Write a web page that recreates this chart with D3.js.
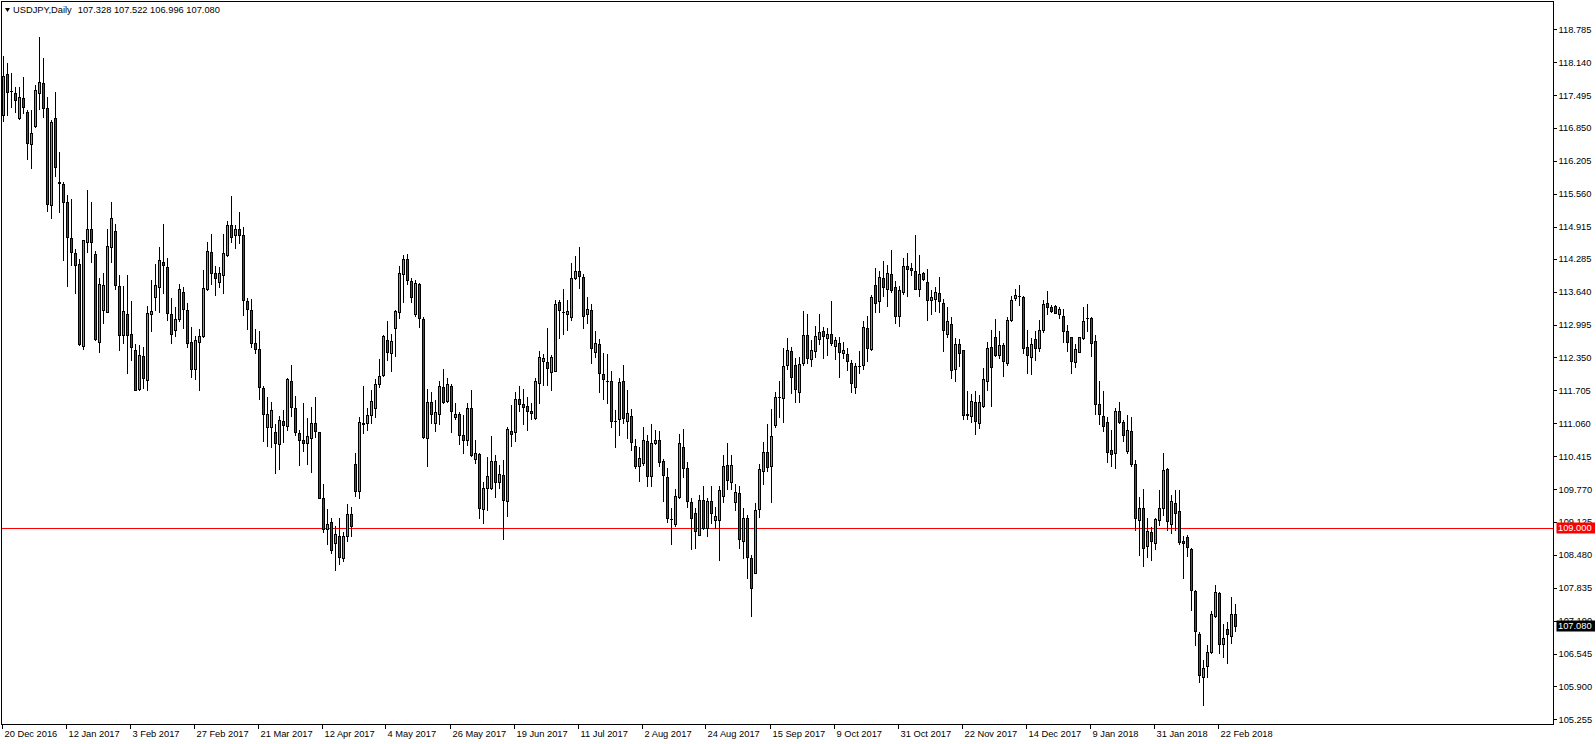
<!DOCTYPE html>
<html><head><meta charset="utf-8">
<script src="https://cdn.jsdelivr.net/npm/d3@7"></script>
<style>
html,body{margin:0;padding:0;background:#fff;overflow:hidden;}
svg{display:block;}
text{font-family:"Liberation Sans",Arial,sans-serif;font-size:9.3px;fill:#000;}
</style></head><body>
<svg id="chart" width="1596" height="744"></svg>
<script>
const symbol = "USDJPY,Daily";
const lastQuote = ["107.328", "107.522", "106.996", "107.080"];
const firstDate = "2016-12-20";
const holidays = ["2017-12-25", "2018-01-01"];
const levelLine = 109.000;
const levelLabel = "109.000";
const lastPriceLabel = "107.080";

const opens = [117.45,117.10,117.91,117.57,117.53,117.05,117.43,117.16,116.53,116.88,117.53,117.74,117.24,115.33,117.04,115.78,115.76,115.39,114.70,114.39,
114.18,112.58,114.61,114.86,114.37,112.66,113.29,113.25,114.52,114.83,113.75,112.80,113.20,112.82,112.50,111.74,112.38,111.91,113.21,113.53,
113.74,114.22,114.12,113.21,112.89,113.10,113.64,113.29,112.66,112.12,112.66,112.78,113.70,114.42,114.00,113.83,113.96,114.35,114.95,114.76,
114.86,114.75,113.46,113.29,112.63,112.51,111.76,110.98,110.98,110.88,110.65,111.10,111.01,111.89,111.35,110.86,110.73,110.68,110.78,111.06,
110.89,109.59,108.98,109.12,108.72,108.85,108.42,108.85,109.29,110.27,109.74,111.06,111.06,111.23,111.35,111.83,112.01,112.70,112.44,112.93,
113.25,113.98,114.29,113.85,113.20,113.80,113.10,110.78,111.47,111.07,111.25,111.78,111.50,111.79,111.19,111.24,110.83,110.73,111.35,110.35,
110.45,109.37,109.80,109.80,110.32,109.91,110.04,109.54,110.91,110.88,111.54,111.43,111.40,111.30,111.17,111.84,112.29,112.27,112.07,112.09,
113.44,113.25,113.21,113.15,113.91,114.05,113.93,113.20,113.28,112.46,112.61,112.03,111.89,111.88,111.10,111.14,111.89,111.11,111.21,110.62,
110.23,110.29,110.71,110.02,110.68,110.73,110.32,110.00,109.18,109.08,109.62,110.60,110.18,109.52,109.31,108.87,109.56,109.01,109.54,109.16,
109.16,109.64,110.24,109.90,109.52,109.69,108.76,109.20,108.41,108.12,109.37,110.12,110.49,110.23,111.03,111.58,111.55,112.21,112.48,112.21,
111.68,112.25,112.80,112.32,112.48,112.71,112.87,112.73,112.82,112.57,112.63,112.43,112.41,112.24,111.78,112.19,112.20,112.93,112.51,113.78,
113.45,113.91,113.70,113.98,113.74,113.16,113.63,114.14,114.10,114.04,113.70,114.01,113.83,113.47,113.49,113.61,113.42,112.82,113.00,112.12,
112.62,112.49,111.22,111.20,111.48,111.07,111.39,111.88,112.55,112.75,112.40,112.60,112.24,113.08,113.52,113.55,113.53,112.55,112.35,112.71,
112.54,112.88,113.41,113.33,113.35,113.20,113.17,112.86,112.75,112.27,112.46,112.74,113.12,113.12,112.67,111.43,111.21,111.08,110.54,110.47,
111.30,111.08,110.52,110.91,110.26,109.16,109.39,108.66,108.92,108.71,109.16,109.39,110.17,109.08,109.50,109.33,108.76,108.82,108.59,107.77,
106.92,106.08,106.30,106.57,107.29,107.74,106.73,107.02,106.89,107.328];
const highs = [118.20,118.26,118.12,117.92,117.65,117.65,117.84,117.20,117.21,117.69,118.64,118.22,117.46,117.01,117.56,116.37,115.80,115.54,115.45,114.48,
114.29,114.65,115.63,115.39,114.44,113.90,114.01,114.86,115.39,114.96,113.97,113.75,113.97,113.46,112.61,112.59,112.55,113.36,113.87,114.18,
114.51,114.97,114.31,113.51,113.33,113.79,113.74,113.41,112.95,112.77,112.90,114.06,114.61,114.78,114.14,114.13,114.78,115.03,115.52,114.95,
115.20,114.91,113.51,113.49,112.90,112.87,111.79,111.57,111.47,111.04,111.20,111.32,111.95,112.20,111.59,110.93,111.46,111.16,111.37,111.57,
110.89,109.87,109.37,109.21,109.04,109.21,108.93,109.47,109.41,110.47,111.18,111.79,111.35,111.71,111.92,112.32,112.79,113.07,112.82,113.29,
114.14,114.36,114.38,113.90,113.87,113.82,113.14,111.73,111.68,111.52,111.88,112.12,111.94,111.83,111.46,111.29,111.22,111.46,111.71,110.73,
110.47,109.90,110.39,110.81,110.44,110.25,110.34,110.98,111.42,111.68,111.80,111.74,111.58,111.45,111.95,112.48,112.41,112.93,112.40,113.48,
113.48,113.69,113.48,114.20,114.33,114.51,113.98,113.54,113.39,112.87,112.71,112.43,112.42,112.08,111.32,111.95,112.20,111.71,111.34,110.75,
110.59,110.98,110.83,111.04,110.93,110.91,110.36,110.18,109.39,109.78,110.85,110.94,110.31,109.59,109.40,109.65,109.83,109.59,109.83,109.42,
109.83,110.44,110.67,110.44,109.86,109.83,109.39,109.26,108.48,109.49,110.26,110.70,111.05,111.34,111.68,111.89,112.54,112.74,112.56,112.33,
112.35,113.26,113.21,112.69,112.97,113.20,112.95,112.93,113.46,112.76,112.76,112.65,112.53,112.30,112.25,112.48,113.06,113.16,113.57,114.10,
114.04,114.25,114.16,114.45,113.84,113.75,114.30,114.39,114.21,114.76,114.35,114.03,114.08,113.67,113.73,113.93,113.49,113.34,113.14,112.73,
112.72,112.50,111.69,111.63,111.69,111.62,112.15,112.66,112.89,113.10,112.87,112.63,113.15,113.56,113.69,113.77,113.56,112.89,112.74,112.87,
113.08,113.48,113.65,113.37,113.37,113.33,113.30,112.99,112.76,112.61,112.76,113.33,113.39,113.15,112.79,111.89,111.69,111.18,110.92,111.35,
111.47,111.12,111.22,111.19,110.34,109.62,109.77,109.20,109.02,109.21,109.76,110.48,110.19,109.65,109.75,109.76,108.84,108.86,108.61,107.79,
106.97,106.42,106.71,107.37,107.89,107.76,107.12,107.17,107.65,107.522];
const lows = [117.30,116.99,117.10,117.27,117.17,117.02,117.14,116.25,116.06,116.86,117.22,117.07,115.23,115.08,115.90,115.21,114.26,113.76,114.16,113.62,
112.60,112.52,114.41,114.22,112.70,112.45,113.03,113.24,114.23,113.70,112.50,112.63,112.05,112.30,111.71,111.71,111.76,111.71,112.86,113.28,
113.25,113.61,113.08,112.63,112.78,113.07,112.92,112.56,111.97,111.92,111.71,112.76,113.67,113.80,113.57,113.74,113.61,114.33,114.62,114.49,
114.59,113.18,112.90,112.56,112.44,111.53,110.72,110.61,110.60,110.09,110.16,110.70,110.93,111.20,110.83,110.24,110.52,110.26,110.11,110.80,
109.59,108.93,108.70,108.52,108.19,108.31,108.36,108.76,108.85,109.63,109.59,110.86,110.93,111.06,111.19,111.78,111.99,112.30,112.09,112.38,
113.13,113.44,113.80,113.44,113.16,112.94,110.78,110.22,111.06,110.91,111.04,111.45,111.48,110.88,111.14,110.65,110.47,110.63,110.42,110.29,
109.21,109.10,109.36,109.78,109.62,109.80,108.80,109.25,110.62,110.71,111.30,111.05,110.93,111.14,111.14,111.45,111.81,111.81,111.71,112.08,
112.74,112.81,112.88,113.08,113.88,113.72,112.92,113.02,112.25,112.35,111.68,111.54,111.45,110.99,110.60,110.82,111.06,110.78,110.54,110.19,
109.92,110.25,109.83,109.83,110.65,110.22,109.54,109.13,108.69,109.05,109.59,110.01,109.42,108.59,108.62,108.86,108.99,108.84,109.10,109.01,
108.38,109.52,109.78,109.77,109.36,108.61,108.42,108.02,107.29,108.12,109.23,109.87,110.13,109.52,110.99,111.19,111.08,112.12,111.65,111.47,
111.48,112.20,112.25,112.19,112.35,112.61,112.33,112.40,112.59,112.32,111.97,112.33,112.10,111.68,111.65,112.04,112.13,112.28,112.49,113.24,
113.25,113.55,113.35,113.63,113.03,112.96,113.60,113.55,113.97,113.70,113.55,113.86,113.09,113.21,113.27,113.25,112.47,112.75,111.95,111.88,
112.18,111.14,111.15,111.08,110.84,110.97,111.38,111.71,111.40,112.37,112.33,111.99,112.20,113.06,113.48,113.37,112.43,112.05,112.03,112.30,
112.48,112.84,113.20,113.24,113.22,113.13,112.66,112.48,112.05,112.17,112.45,112.71,112.87,112.37,111.25,111.04,110.90,110.31,110.22,110.18,
111.06,110.72,110.48,110.22,108.97,108.48,108.26,108.44,108.38,108.59,109.06,109.26,108.97,108.90,108.97,108.70,108.02,108.46,107.40,106.71,
105.99,105.54,106.08,106.55,107.27,106.55,106.48,106.35,106.76,106.996];
const closes = [117.95,117.86,117.56,117.57,117.39,117.45,117.27,116.56,116.76,117.59,117.76,117.25,115.35,116.97,116.09,115.79,115.40,114.72,114.42,114.16,
112.61,114.65,114.86,114.61,112.71,113.80,113.77,114.54,115.08,113.78,112.79,113.26,112.80,112.56,111.72,112.40,111.94,113.23,113.26,113.77,
114.27,114.17,113.23,112.82,113.10,113.69,113.31,112.63,112.12,112.70,112.77,113.72,114.44,114.00,113.90,114.00,114.39,114.95,114.72,114.86,
114.75,113.48,113.31,112.64,112.51,111.78,111.25,111.25,111.32,110.67,111.12,111.02,111.93,111.38,110.89,110.73,110.68,110.81,111.06,110.91,
109.60,108.98,109.08,108.57,108.88,108.43,108.85,109.29,109.05,109.74,111.09,111.04,111.23,111.50,111.82,111.99,112.77,112.46,112.67,113.26,
114.00,114.29,113.87,113.54,113.82,113.12,110.80,111.47,111.25,111.29,111.79,111.47,111.82,111.31,111.25,110.83,110.73,111.35,110.44,110.47,
109.39,109.80,110.03,110.32,109.91,110.06,109.55,110.95,110.85,111.54,111.44,111.37,111.30,111.27,111.88,112.35,112.33,112.15,112.35,113.40,
113.28,113.25,113.26,113.90,114.05,113.95,113.17,113.30,112.53,112.64,112.05,111.93,111.89,111.11,111.10,111.87,111.16,111.27,110.69,110.23,
110.37,110.74,110.03,110.67,110.73,110.31,110.05,109.20,109.18,109.64,110.67,110.18,109.54,109.20,108.95,109.56,109.01,109.54,109.31,109.24,
109.75,110.22,109.95,110.24,109.72,108.80,109.20,108.44,107.82,109.36,110.16,110.49,110.21,110.81,111.57,111.58,112.18,112.50,111.97,111.73,
112.23,112.80,112.33,112.50,112.77,112.84,112.77,112.82,112.63,112.69,112.45,112.50,112.29,111.84,112.18,112.19,112.95,112.54,113.54,113.42,
113.93,113.74,114.01,113.67,113.16,113.67,114.14,114.08,114.06,113.70,113.98,113.88,113.47,113.54,113.63,113.45,112.88,113.06,112.10,112.61,
112.44,111.22,111.25,111.49,111.10,111.48,111.93,112.54,112.17,112.40,112.60,112.28,113.08,113.48,113.58,113.55,112.53,112.40,112.61,112.53,
112.89,113.40,113.33,113.27,113.23,113.31,112.86,112.66,112.29,112.52,112.75,113.07,113.12,112.64,111.43,111.25,111.01,110.50,110.46,111.30,
111.09,110.82,110.93,110.26,109.21,109.39,108.61,108.95,108.76,109.18,109.39,110.14,109.14,109.54,109.31,108.74,108.72,108.64,107.80,106.99,
106.12,106.27,106.57,107.32,107.76,106.73,106.84,106.93,107.31,107.080];

const priceTickLabels = ["118.785","118.140","117.495","116.850","116.205","115.560","114.915","114.285","113.640","112.995","112.350",
"111.705","111.060","110.415","109.770","109.125","108.480","107.835","107.190","106.545","105.900","105.255"];
const dateTickLabels = ["20 Dec 2016","12 Jan 2017","3 Feb 2017","27 Feb 2017","21 Mar 2017","12 Apr 2017","4 May 2017","26 May 2017",
"19 Jun 2017","11 Jul 2017","2 Aug 2017","24 Aug 2017","15 Sep 2017","9 Oct 2017","31 Oct 2017","22 Nov 2017","14 Dec 2017",
"9 Jan 2018","31 Jan 2018","22 Feb 2018"];

// ---- build trading dates (weekdays, broker holidays removed) ----
const N = opens.length;
const fmtKey = d3.utcFormat("%Y-%m-%d");
const fmtLabel = d3.utcFormat("%-d %b %Y");
const dates = [];
let d = new Date(firstDate + "T00:00:00Z");
while (dates.length < N) {
  const wd = d.getUTCDay();
  if (wd !== 0 && wd !== 6 && !holidays.includes(fmtKey(d))) dates.push(new Date(d));
  d = new Date(d.getTime() + 86400000);
}
const data = d3.range(N).map(i => ({i, date: dates[i], o: opens[i], h: highs[i], l: lows[i], c: closes[i]}));

// ---- layout ----
const W = 1596, H = 744;
const plotLeft = 1.5, plotTop = 1.5, plotRight = 1553.5, plotBottom = 724.5;

const x = d3.scaleLinear().domain([0, N - 1]).range([-0.5, -0.5 + 4 * (N - 1)]);
const y = d3.scaleLinear().domain([105.255, 118.785]).range([719.3, 29.3]);

const svg = d3.select("#chart");
svg.append("rect").attr("width", W).attr("height", H).attr("fill", "#fff");

svg.append("defs").append("clipPath").attr("id", "plotclip")
  .append("rect").attr("x", plotLeft).attr("y", plotTop)
  .attr("width", plotRight - plotLeft).attr("height", plotBottom - plotTop);

const plot = svg.append("g").attr("clip-path", "url(#plotclip)");

// level line at 109.000
const yl = Math.round(y(levelLine)) + 0.5;
plot.append("line").attr("x1", plotLeft).attr("x2", plotRight).attr("y1", yl).attr("y2", yl)
  .attr("stroke", "#ff0000").attr("stroke-width", 1);

// candles
const bull = "#32cd32", bear = "#ff0000";
const cg = plot.append("g").attr("shape-rendering", "crispEdges");
data.forEach(b => {
  const cx = x(b.i);
  const yh = Math.round(y(b.h)), ylo = Math.round(y(b.l));
  const yo = Math.round(y(b.o)), yc = Math.round(y(b.c));
  cg.append("line").attr("x1", cx).attr("x2", cx).attr("y1", yh).attr("y2", ylo + 1)
    .attr("stroke", "#000").attr("stroke-width", 1);
  const top = Math.min(yo, yc), bot = Math.max(yo, yc);
  if (bot - top < 1) {
    cg.append("line").attr("x1", cx - 1.5).attr("x2", cx + 1.5).attr("y1", top + 0.5).attr("y2", top + 0.5)
      .attr("stroke", "#000").attr("stroke-width", 1);
  } else {
    cg.append("rect").attr("x", cx - 1).attr("y", top + 0.5).attr("width", 2).attr("height", bot - top)
      .attr("fill", b.c >= b.o ? bull : bear).attr("stroke", "#000").attr("stroke-width", 1);
  }
});

// frame
svg.append("rect").attr("x", plotLeft).attr("y", plotTop)
  .attr("width", plotRight - plotLeft).attr("height", plotBottom - plotTop)
  .attr("fill", "none").attr("stroke", "#000").attr("shape-rendering", "crispEdges");

// price axis
const yAxis = d3.axisRight(y)
  .tickValues(priceTickLabels.map(Number))
  .tickFormat((v, i) => priceTickLabels[i])
  .tickSize(3).tickPadding(2);
const ya = svg.append("g").attr("transform", `translate(${plotRight},0)`).call(yAxis);
ya.select(".domain").remove();
ya.selectAll("line").attr("stroke", "#000").attr("shape-rendering", "crispEdges");
ya.selectAll("text").attr("font-family", "Liberation Sans, Arial, sans-serif").attr("font-size", "9.3px").attr("fill", "#000");

// date axis
const dateIdx = dateTickLabels.map(lbl => dates.findIndex(dt => fmtLabel(dt) === lbl));
const xAxis = d3.axisBottom(x)
  .tickValues(dateIdx)
  .tickFormat((v, i) => dateTickLabels[i])
  .tickSize(4).tickPadding(1);
const xa = svg.append("g").attr("transform", `translate(0,${plotBottom})`).call(xAxis);
xa.select(".domain").remove();
xa.selectAll(".tick").attr("transform", v => `translate(${Math.max(2.5, Math.round(x(v)) - 1.5)},0)`);
xa.selectAll("line").attr("stroke", "#000").attr("shape-rendering", "crispEdges");
xa.selectAll("text").attr("text-anchor", "start").attr("x", 2).attr("y", 6).attr("dy", "0.71em")
  .attr("font-family", "Liberation Sans, Arial, sans-serif").attr("font-size", "9.3px").attr("fill", "#000");

// price badges
function badge(val, label, bg) {
  const yy = Math.round(y(val));
  svg.append("rect").attr("x", plotRight + 3).attr("y", yy - 5.5).attr("width", W - plotRight - 4).attr("height", 11)
    .attr("fill", bg);
  svg.append("text").attr("x", plotRight + 4.5).attr("y", yy).attr("dy", "0.34em")
    .attr("fill", "#fff").style("fill", "#fff").text(label);
}
badge(levelLine, levelLabel, "#ff0000");
badge(+lastPriceLabel, lastPriceLabel, "#000000");

// title
svg.append("path").attr("d", "M5,8 L10,8 L7.5,12 Z").attr("fill", "#000");
const title = svg.append("text").attr("x", 13).attr("y", 10).attr("dy", "0.34em");
title.append("tspan").text(symbol);
title.append("tspan").attr("dx", 6).text(lastQuote.join(" "));
</script>
</body></html>
